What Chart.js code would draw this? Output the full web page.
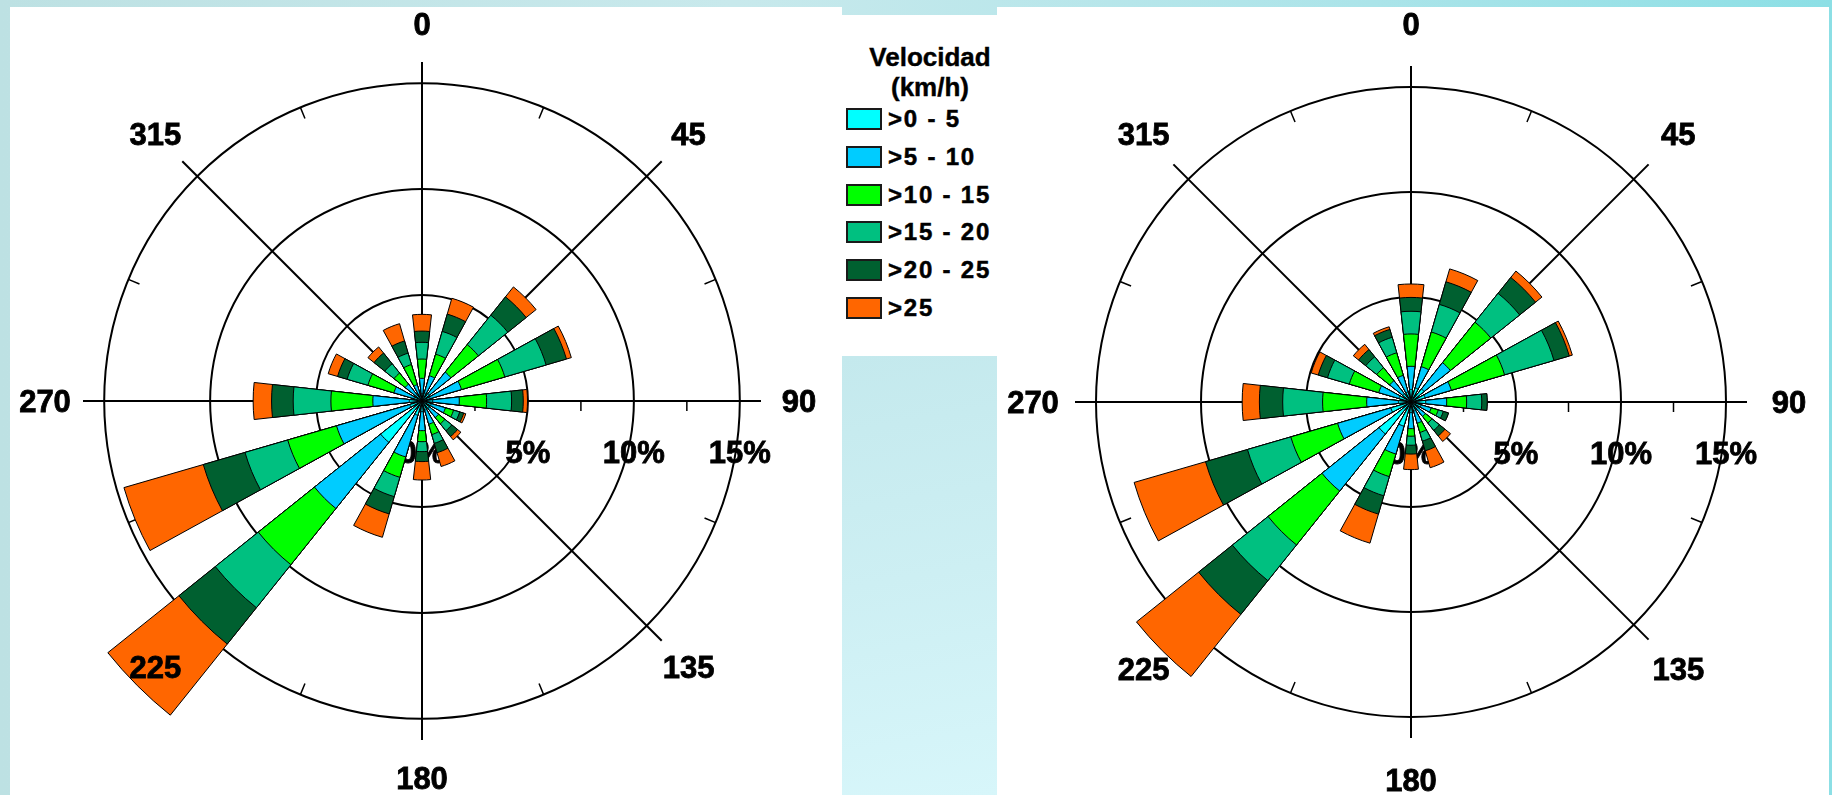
<!DOCTYPE html>
<html lang="es">
<head>
<meta charset="utf-8">
<title>Rosa de vientos</title>
<script src="https://cdn.jsdelivr.net/npm/chart.js@4.4.1/dist/chart.umd.min.js"></script>
<style>
  html, body { margin: 0; padding: 0; }
  body {
    width: 1832px; height: 795px; overflow: hidden; position: relative;
    background: linear-gradient(90deg, #bde1e3 0%, #c8e9ec 40%, #abe4e9 75%, #8cdfe5 100%);
    font-family: "Liberation Sans", Arial, sans-serif;
  }
  .panel { position: absolute; background: #fff; }
  #panelL { left: 10px; top: 7px; width: 832px; height: 788px; }
  #panelR { left: 997px; top: 7px; width: 832px; height: 788px; }
  #legend { left: 842px; top: 15px; width: 155px; height: 341px; }
  #under {
    position: absolute; left: 842px; top: 356px; width: 155px; height: 439px;
    background: linear-gradient(170deg, #c4e9ed 0%, #cdeff3 50%, #d7f6fa 100%);
  }
  canvas { display: block; }
  .lg-title {
    position: absolute; left: 10px; top: 27px; width: 156px;
    text-align: center; font-weight: bold; font-size: 26px; line-height: 30px; color: #000;
    -webkit-text-stroke: 0.4px #000;
  }
  .lg-item { position: absolute; left: 4px; height: 22px; }
  .lg-box {
    position: absolute; left: 0; top: 0; width: 36px; height: 22px;
    box-sizing: border-box; border: 2px solid #1a1a1a;
  }
  .lg-text {
    position: absolute; left: 42px; top: 0; white-space: nowrap;
    font-weight: bold; font-size: 24px; line-height: 22px; letter-spacing: 1.8px; color: #000;
    -webkit-text-stroke: 0.5px #000;
  }
</style>
</head>
<body>
<div class="panel" id="panelL"><canvas id="roseL" width="832" height="788"></canvas></div>
<div class="panel" id="legend">
  <div class="lg-title">Velocidad<br>(km/h)</div>
</div>
<div id="under"></div>
<div class="panel" id="panelR"><canvas id="roseR" width="832" height="788"></canvas></div>

<script>
// directions (degrees, clockwise from north) and axis labels
const DIRECTIONS = [0, 22.5, 45, 67.5, 90, 112.5, 135, 157.5, 180, 202.5, 225, 247.5, 270, 292.5, 315, 337.5];
const AXIS_LABELS = ['0', '45', '90', '135', '180', '225', '270', '315'];
const RING_TICKS = [0, 5, 10, 15];
const PCT_LABELS = [0, 5, 10, 15];
const MINOR_TICKS = [2.5, 7.5, 12.5];
const SPEED_CLASSES = ['>0 - 5', '>5 - 10', '>10 - 15', '>15 - 20', '>20 - 25', '>25'];

// left rose, % of time per speed class and direction
const left_0_5   = [0.35, 0.40, 0.45, 0.40, 0.50, 0.45, 0.45, 0.45, 0.50, 0.70, 2.50, 0.60, 0.60, 0.40, 0.35, 0.30];
const left_5_10  = [0.72, 0.84, 1.30, 1.54, 1.26, 0.70, 0.55, 0.69, 0.90, 2.05, 4.00, 3.60, 1.72, 0.98, 0.67, 0.50];
const left_10_15 = [0.91, 1.06, 1.66, 2.13, 1.29, 0.40, 0.38, 0.51, 0.52, 1.00, 3.40, 2.40, 1.98, 1.28, 0.67, 0.99];
const left_15_20 = [0.79, 1.12, 1.78, 2.03, 1.18, 0.30, 0.42, 0.43, 0.47, 0.95, 2.60, 2.10, 1.78, 1.02, 0.56, 0.56];
const left_20_25 = [0.53, 0.85, 1.11, 1.00, 0.55, 0.20, 0.35, 0.46, 0.47, 0.85, 2.20, 2.05, 1.02, 0.47, 0.65, 0.60];
const left_25    = [0.79, 0.78, 0.60, 0.24, 0.20, 0.10, 0.20, 0.68, 0.87, 1.15, 4.30, 3.90, 0.87, 0.46, 0.37, 0.85];

// right rose
const right_0_5   = [0.60, 0.70, 0.80, 0.70, 0.70, 0.50, 0.40, 0.45, 0.50, 1.20, 1.95, 1.00, 0.60, 0.60, 0.50, 0.50];
const right_5_10  = [1.10, 1.05, 1.60, 1.30, 1.00, 0.50, 0.48, 0.60, 0.77, 1.38, 3.48, 2.64, 1.51, 1.00, 0.80, 0.82];
const right_10_15 = [1.54, 1.72, 2.47, 2.64, 0.95, 0.35, 0.40, 0.46, 0.36, 1.12, 3.29, 2.32, 2.10, 1.46, 0.79, 1.12];
const right_15_20 = [1.08, 1.37, 1.76, 2.45, 0.72, 0.25, 0.45, 0.43, 0.43, 0.95, 2.18, 2.15, 1.90, 1.08, 0.67, 0.77];
const right_20_25 = [0.66, 1.12, 0.97, 0.76, 0.26, 0.26, 0.34, 0.48, 0.42, 0.91, 2.06, 2.08, 1.11, 0.46, 0.44, 0.39];
const right_25    = [0.64, 0.64, 0.39, 0.15, 0.00, 0.00, 0.34, 0.84, 0.74, 1.44, 3.79, 3.54, 0.82, 0.35, 0.32, 0.13];

const CLASS_COLORS = ['#00ffff', '#00ccff', '#00ff00', '#00c080', '#006030', '#ff6600'];
const FONT = 'bold 31px "Liberation Sans", Arial, sans-serif';
const WEDGE = 12.6;                       // angular width of one petal
const SLOT = 360 / DIRECTIONS.length;     // 22.5

// legend
const legendEl = document.getElementById('legend');
SPEED_CLASSES.forEach((name, i) => {
  const item = document.createElement('div');
  item.className = 'lg-item';
  item.style.top = (93 + i * 37.8) + 'px';
  item.innerHTML = '<div class="lg-box" style="background:' + CLASS_COLORS[i] + '"></div>' +
                   '<div class="lg-text">' + name + '</div>';
  legendEl.appendChild(item);
});

// polar area elements: a lead-in slice (so petal 0 is centred on north), then petal / gap pairs
function slotAngle(i) {
  if (i === 0) return 360 - WEDGE / 2;
  return i % 2 ? WEDGE : SLOT - WEDGE;
}
function spread(values) {
  const out = [0];
  values.forEach((v, k) => {
    out.push(v);
    if (k < values.length - 1) out.push(0);
  });
  return out;
}

function boldText(ctx, t, x, y) {
  ctx.strokeText(t, x, y);
  ctx.fillText(t, x, y);
}

// axis labels, ticks and % labels placed with the radial scale
const decor = {
  id: 'decor',
  beforeDatasetsDraw(chart) {
    const s = chart.scales.r, ctx = chart.ctx;
    const outer = s.getDistanceFromCenterForValue(RING_TICKS[RING_TICKS.length - 1]);
    const half = Math.PI / AXIS_LABELS.length;
    ctx.save();
    ctx.strokeStyle = '#000';
    ctx.lineWidth = 1.5;
    ctx.beginPath();
    for (let i = 0; i < AXIS_LABELS.length; i++) {
      const a = s.getPointPosition(i, outer, half);
      const b = s.getPointPosition(i, outer - 12, half);
      ctx.moveTo(a.x, a.y);
      ctx.lineTo(b.x, b.y);
    }
    MINOR_TICKS.forEach(v => {
      const x = s.xCenter + s.getDistanceFromCenterForValue(v);
      ctx.moveTo(x, s.yCenter);
      ctx.lineTo(x, s.yCenter + 10);
    });
    ctx.stroke();
    ctx.fillStyle = '#000';
    ctx.lineWidth = 0.8;
    ctx.font = FONT;
    ctx.textAlign = 'center';
    ctx.textBaseline = 'middle';
    PCT_LABELS.forEach(v => {
      boldText(ctx, v + '%', s.xCenter + s.getDistanceFromCenterForValue(v), s.yCenter + 53);
    });
    ctx.restore();
  },
  afterDatasetsDraw(chart, args, opts) {
    const s = chart.scales.r, ctx = chart.ctx;
    const d = s.getDistanceFromCenterForValue(s.max) + opts.gap;
    ctx.save();
    ctx.fillStyle = '#000';
    ctx.strokeStyle = '#000';
    ctx.lineWidth = 0.8;
    ctx.font = FONT;
    ctx.textAlign = 'center';
    ctx.textBaseline = 'middle';
    AXIS_LABELS.forEach((t, i) => {
      const p = s.getPointPosition(i, d);
      boldText(ctx, t, p.x, p.y + 2);
    });
    ctx.restore();
  }
};

function makeRose(id, series, pad, gap) {
  // stacked petals: each class drawn as running total, innermost on top
  let run = DIRECTIONS.map(() => 0);
  const datasets = series.map((vals, c) => {
    run = run.map((r, k) => r + vals[k]);
    return {
      label: SPEED_CLASSES[c],
      data: spread(run),
      backgroundColor: CLASS_COLORS[c],
      borderColor: '#000',
      borderWidth: ctx => (ctx.dataIndex % 2 ? 1 : 0),
      angle: ctx => slotAngle(ctx.dataIndex),
      clip: false
    };
  });

  return new Chart(document.getElementById(id), {
    type: 'polarArea',
    data: { labels: AXIS_LABELS, datasets },
    options: {
      responsive: false,
      animation: false,
      events: [],
      layout: { padding: pad },
      plugins: {
        legend: { display: false },
        tooltip: { enabled: false },
        decor: { gap }
      },
      scales: {
        r: {
          min: 0,
          max: 16,
          startAngle: 0,
          ticks: { display: false, stepSize: 5 },
          afterBuildTicks: axis => { axis.ticks = RING_TICKS.map(v => ({ value: v })); },
          grid: { circular: true, color: '#000', lineWidth: 2 },
          angleLines: { display: true, color: '#000', lineWidth: 2 },
          pointLabels: { display: false }
        }
      }
    },
    plugins: [decor]
  });
}

makeRose('roseL', [left_0_5, left_5_10, left_10_15, left_15_20, left_20_25, left_25],
  { left: 73, top: 55, right: 81, bottom: 55 }, 38);
makeRose('roseR', [right_0_5, right_5_10, right_10_15, right_15_20, right_20_25, right_25],
  { left: 78, top: 59, right: 82, bottom: 57 }, 42);
</script>
</body>
</html>
